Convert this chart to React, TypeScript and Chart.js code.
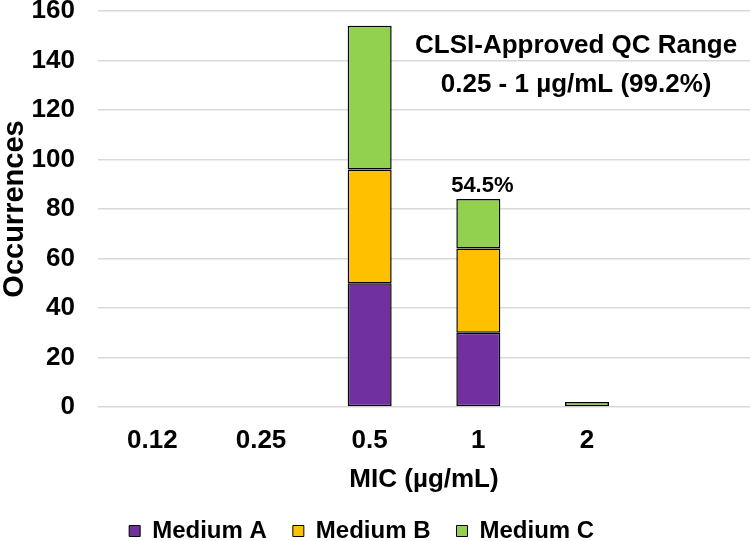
import React, { useEffect, useRef } from "react";
import { Chart, registerables } from "chart.js";

Chart.register(...registerables);

const categories = ["0.12", "0.25", "0.5", "1", "2", ""];
const mediumA = [0, 0, 50, 30, 0, 0];
const mediumB = [0, 0, 46, 34, 0, 0];
const mediumC = [0, 0, 58, 20, 2, 0];
const yTicks = { min: 0, max: 160, step: 20 };
const barNote = { index: 3, text: "54.5%" };
const rangeNote = ["CLSI-Approved QC Range", "0.25 - 1 µg/mL (99.2%)"];

const FONT = "'Liberation Sans', Arial, sans-serif";

const notesPlugin = {
  id: "notes",
  afterDatasetsDraw(chart: any) {
    const { ctx, scales } = chart;
    const x = scales.x;
    const y = scales.y;
    ctx.save();
    ctx.fillStyle = "#000";
    ctx.textAlign = "center";
    ctx.textBaseline = "middle";
    const total = mediumA[barNote.index] + mediumB[barNote.index] + mediumC[barNote.index];
    ctx.font = `bold 22px ${FONT}`;
    ctx.fillText(barNote.text, x.getPixelForValue(barNote.index) + 4, y.getPixelForValue(total) - 13);
    ctx.font = `bold 26px ${FONT}`;
    ctx.fillText(rangeNote[0], x.getPixelForValue(3.9), y.getPixelForValue(146));
    ctx.fillText(rangeNote[1], x.getPixelForValue(3.9), y.getPixelForValue(130));
    ctx.restore();
  },
};

export default function App() {
  const ref = useRef<HTMLCanvasElement>(null);
  useEffect(() => {
    if (!ref.current) return;
    const mk = (label: string, data: number[], color: string) => ({
      label,
      data,
      backgroundColor: color,
      borderColor: "#000",
      borderWidth: 1.5,
      borderSkipped: false,
      barPercentage: 0.405,
      categoryPercentage: 1,
    });
    const chart = new Chart(ref.current, {
      type: "bar",
      data: {
        labels: categories,
        datasets: [
          mk("Medium A", mediumA, "#7030A0"),
          mk("Medium B", mediumB, "#FFC000"),
          mk("Medium C", mediumC, "#92D050"),
        ],
      },
      options: {
        animation: false,
        responsive: false,
        maintainAspectRatio: false,
        layout: { padding: { top: 11, left: 0, right: 0, bottom: 0 } },
        plugins: {
          tooltip: { enabled: false },
          legend: {
            position: "bottom",
            labels: {
              boxWidth: 11,
              boxHeight: 11,
              padding: 6,
              color: "#000",
              font: { family: FONT, size: 24, weight: "bold" },
              generateLabels: (c: any) =>
                Chart.defaults.plugins.legend.labels.generateLabels(c).map((l: any, i: number, arr: any[]) => ({
                  ...l,
                  text: l.text + (i === arr.length - 1 ? "    " : "   "),
                  lineWidth: 1,
                  strokeStyle: "#000",
                })),
            },
          },
        },
        scales: {
          x: {
            stacked: true,
            grid: { display: false, drawTicks: false },
            border: { display: false },
            ticks: {
              color: "#000",
              padding: 18,
              font: { family: FONT, size: 26, weight: "bold" },
              maxRotation: 0,
              autoSkip: false,
            },
            title: {
              display: true,
              text: "MIC (µg/mL)",
              color: "#000",
              font: { family: FONT, size: 26, weight: "bold" },
              padding: { top: 0, bottom: 18 },
            },
            afterFit: (s: any) => {
              s.height = 106;
            },
          },
          y: {
            stacked: true,
            min: yTicks.min,
            max: yTicks.max,
            grid: { color: "#d9d9d9", lineWidth: 1.6, drawTicks: false },
            border: { display: false },
            ticks: {
              stepSize: yTicks.step,
              color: "#000",
              padding: 23,
              font: { family: FONT, size: 26, weight: "bold" },
            },
            title: {
              display: true,
              text: "Occurrences",
              color: "#000",
              font: { family: FONT, size: 29, weight: "bold", lineHeight: 1.0 },
              padding: { top: 0, bottom: 0 },
            },
            afterFit: (s: any) => {
              s.width = 98;
              s.paddingTop = 0;
              s.paddingBottom = 0;
            },
          },
        },
      },
      plugins: [notesPlugin],
    });
    return () => chart.destroy();
  }, []);
  return (
    <div style={{ position: "fixed", left: 0, top: 0, width: 750, height: 541, overflow: "hidden", background: "#fff" }}>
      <canvas ref={ref} width={750} height={553} style={{ display: "block", width: 750, height: 553 }} />
    </div>
  );
}
